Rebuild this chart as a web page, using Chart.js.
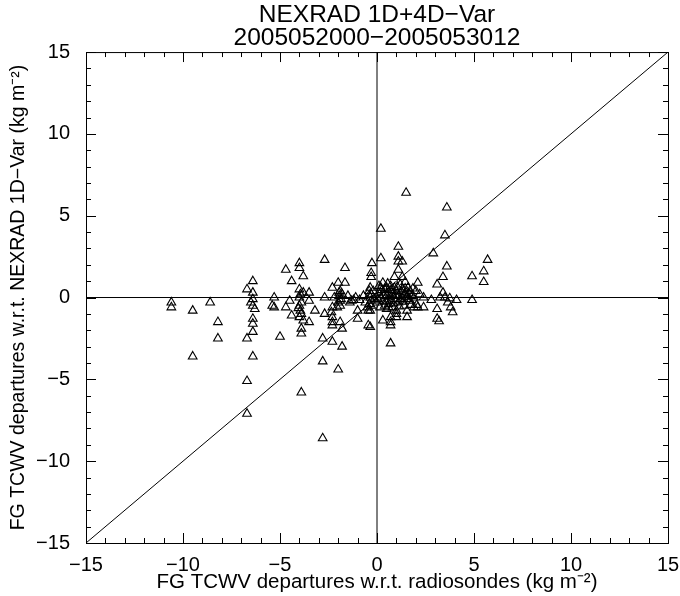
<!DOCTYPE html>
<html>
<head>
<meta charset="utf-8">
<script src="https://cdn.jsdelivr.net/npm/chart.js@4.4.1/dist/chart.umd.min.js"></script>
<style>
  body { margin: 0; background: #fff; }
  canvas { display: block; }
</style>
</head>
<body>
<canvas id="chartTcwv" width="680" height="596"></canvas>
<script>
// FG TCWV departures (kg m-2): x = w.r.t. radiosondes, y = w.r.t. NEXRAD 1D-Var
var depRadiosonde = [
    -10.6, -10.6, -9.5, -9.5, -8.6, -8.2, -8.2, -6.7, -6.7, -6.7,
    -6.7, -6.4, -6.4, -6.4, -6.5, -6.4, -6.3, -6.4, -6.4, -6.4,
    -6.4, -5.4, -5.3, -5.3, -5.0, -4.7, -4.7, -4.5, -4.4, -4.4,
    -4.0, -4.0, -4.0, -4.0, -3.9, -4.0, -3.95, -3.9, -4.0, -3.9,
    -3.9, -3.9, -3.8, -3.8, -3.8, -3.5, -3.5, -3.5, -3.2, -2.8,
    -2.8, -2.8, -2.7, -2.7, -2.7, -3.95, -4.05, -2.3, -2.3, -2.35,
    -2.3, -2.3, -2.3, -2.3, -2.2, -2.0, -2.0, -1.95, -1.9, -1.85,
    -2.0, -1.9, -1.8, -1.9, -1.8, -1.8, -1.65, -1.65, -1.5, -1.4,
    -1.3, -1.2, -1.1, -1.0, -1.0, -0.9, -0.7, -0.6, -0.5, -0.45,
    -0.45, -0.35, -0.4, -0.3, -0.35, -0.3, -0.4, -0.35, -0.35, -0.26,
    -0.3, -0.3, -0.2, -0.15, -1.9, -1.95, -2.05, -0.4, -0.3, 0.2,
    0.2, 0.1, 0.2, 0.0, 0.15, 0.3, 0.3, 0.3, 0.2, 0.4,
    0.4, 0.5, 0.5, 0.5, 0.6, 0.6, 0.7, 0.7, 0.7, 0.7,
    0.7, 0.7, 0.8, 0.8, 0.9, 0.9, 0.9, 1.0, 1.0, 1.0,
    1.0, 1.1, 1.1, 1.1, 1.1, 1.1, 1.1, 1.2, 1.2, 1.3,
    1.3, 1.3, 1.3, 1.4, 1.4, 1.45, 1.5, 1.5, 1.55, 1.55,
    1.6, 1.6, 1.7, 1.7, 1.8, 1.9, 1.9, 2.0, 2.1, 2.1,
    2.05, 2.2, 2.4, 2.4, 0.1, 0.25, 0.35, 0.45, 0.55, 0.65,
    0.75, 0.85, 0.95, 1.05, 1.15, 1.25, 1.35, 1.45, 1.55, 1.65,
    1.75, 1.85, 0.05, 0.6, 2.8, 2.9, 3.1, 3.1, 3.1, 3.2,
    3.25, 3.4, 3.4, 3.5, 3.5, 3.6, 3.6, 3.65, 3.75, 3.8,
    3.9, 4.1, 4.9, 4.9, 5.5, 5.5, 5.7
];
var depNexrad = [
    -0.3, -0.6, -0.8, -3.6, -0.3, -1.5, -2.5, 0.5, -2.5, -5.1,
    -7.1, 1.0, 0.3, -0.1, -0.3, -0.5, -0.7, -1.3, -1.6, -2.1,
    -3.6, -0.5, -0.6, 0.0, -2.4, 1.7, -0.6, -0.2, 1.0, -1.1,
    2.1, 1.8, 0.5, 0.0, -0.3, -0.5, -0.8, -1.0, -1.2, -1.9,
    -2.2, -5.8, 1.3, 0.3, -1.4, 0.3, -0.2, -1.5, -0.8, -2.5,
    -3.9, -8.6, 2.3, 0.0, -1.0, 0.2, -0.65, 0.6, -0.6, -0.9,
    -1.2, -1.5, -1.7, -2.7, 0.0, 0.9, -4.4, 0.1, 0.4, -0.1,
    -0.3, -0.5, 0.2, -1.5, -1.9, -3.0, 1.8, 0.9, 0.1, -0.3,
    -0.2, -0.15, 0.0, -0.8, -1.3, -0.15, 0.1, -0.3, -0.6, -0.8,
    -1.7, 0.6, 0.4, 0.2, 0.0, -0.2, -0.4, -0.8, -1.8, 2.1,
    1.5, 1.25, 0.4, -0.1, -0.2, 0.3, -0.6, 0.15, -0.5, 4.2,
    2.4, 0.3, 0.0, -0.3, -0.6, -0.2, 0.9, -1.4, 0.6, 0.5,
    -0.5, 0.1, -0.7, 0.6, -0.4, 0.3, 0.7, -0.2, -1.2, -1.5,
    -1.7, -2.8, 0.2, -0.6, -0.1, 0.6, 1.25, 0.4, -0.8, -1.0,
    -1.2, 3.1, 2.5, 2.2, 1.7, -0.3, 0.1, 0.8, -0.1, 0.0,
    0.5, 2.2, 1.25, -0.5, 0.2, 0.95, 6.4, 0.3, -0.8, -1.2,
    0.6, -0.1, -0.2, 0.4, 0.1, -0.6, 0.0, 0.4, 0.9, -0.6,
    -0.45, 0.2, 0.0, -0.6, 0.7, 0.45, 0.15, -0.25, 0.85, 0.05,
    0.45, -0.35, 0.15, 0.65, -0.55, 0.35, -0.25, 0.55, 0.05, 0.25,
    -0.45, 0.55, -0.1, -0.6, -0.15, 2.7, 0.8, -0.7, -1.3, -1.45,
    0.0, 1.25, 0.3, 3.8, 0.0, 5.5, 1.9, -0.3, -0.05, -0.6,
    -0.9, -0.15, 1.3, -0.15, 1.6, 0.95, 2.3
];

var axisMin = -15;
var axisMax = 15;
var majorStep = 5;
var titleLines = ['NEXRAD 1D+4D\u2212Var', '2005052000\u22122005053012'];
var xTitle = 'FG TCWV departures w.r.t. radiosondes (kg m\u207B\u00B2)';
var yTitle = 'FG TCWV departures w.r.t. NEXRAD 1D\u2212Var (kg m\u207B\u00B2)';

var fontFamily = "'Liberation Sans', Arial, sans-serif";

var points = depRadiosonde.map(function (x, i) {
    return { x: x, y: depNexrad[i] };
});

var minus = function (v) {
    return String(v).replace('-', '\u2212');
};

// box + inward ticks on all four sides, like the IDL plot
var frameTicks = {
    id: 'frameTicks',
    afterDatasetsDraw: function (chart) {
        var ctx = chart.ctx;
        var a = chart.chartArea;
        var sx = chart.scales.x;
        var sy = chart.scales.y;
        ctx.save();
        ctx.strokeStyle = '#000';
        ctx.lineWidth = 1;
        ctx.strokeRect(a.left + 0.5, a.top + 0.5, a.right - a.left, a.bottom - a.top);
        ctx.beginPath();
        for (var v = axisMin; v <= axisMax; v++) {
            var len = v % majorStep === 0 ? 10 : 5;
            var px = Math.round(sx.getPixelForValue(v)) + 0.5;
            ctx.moveTo(px, a.bottom);
            ctx.lineTo(px, a.bottom - len);
            ctx.moveTo(px, a.top);
            ctx.lineTo(px, a.top + len);
            var py = Math.round(sy.getPixelForValue(v)) + 0.5;
            ctx.moveTo(a.left, py);
            ctx.lineTo(a.left + len, py);
            ctx.moveTo(a.right, py);
            ctx.lineTo(a.right - len, py);
        }
        ctx.stroke();
        ctx.restore();
    }
};

var refLine = function (xs, ys) {
    return {
        type: 'line',
        data: [{ x: xs[0], y: ys[0] }, { x: xs[1], y: ys[1] }],
        borderColor: '#000',
        borderWidth: 1,
        pointRadius: 0,
        fill: false
    };
};

var cmc = document.getElementById('chartTcwv');
var chartTcwv = new Chart(cmc, {
    type: 'scatter',
    plugins: [frameTicks],
    data: {
        datasets: [
            {
                data: points,
                pointStyle: 'triangle',
                pointRadius: 5,
                backgroundColor: 'rgba(0,0,0,0)',
                borderColor: '#000',
                borderWidth: 1.1
            },
            refLine([axisMin, axisMax], [axisMin, axisMax]),
            refLine([axisMin, axisMax], [0, 0]),
            refLine([0, 0], [axisMin, axisMax])
        ]
    },
    options: {
        responsive: false,
        animation: false,
        layout: { padding: { left: 0, right: 12, top: 0, bottom: 0 } },
        plugins: {
            legend: { display: false },
            tooltip: { enabled: false },
            title: {
                display: true,
                fullSize: false,
                text: titleLines,
                color: '#000',
                font: { family: fontFamily, size: 24.5, weight: 'normal', lineHeight: 0.94 },
                padding: { top: 4, bottom: 2 }
            }
        },
        scales: {
            x: {
                type: 'linear',
                min: axisMin,
                max: axisMax,
                grid: { display: false },
                border: { display: false },
                ticks: {
                    stepSize: majorStep,
                    color: '#000',
                    padding: 2,
                    maxRotation: 0,
                    font: { family: fontFamily, size: 20 },
                    callback: minus
                },
                title: {
                    display: true,
                    text: xTitle,
                    color: '#000',
                    font: { family: fontFamily, size: 20.5 },
                    padding: { top: 0, bottom: 1 }
                },
                afterFit: function (scale) {
                    scale.height = 53;
                    scale.paddingLeft = 0;
                    scale.paddingRight = 0;
                }
            },
            y: {
                type: 'linear',
                min: axisMin,
                max: axisMax,
                grid: { display: false },
                border: { display: false },
                ticks: {
                    stepSize: majorStep,
                    color: '#000',
                    padding: 8,
                    font: { family: fontFamily, size: 20 },
                    callback: minus
                },
                title: {
                    display: true,
                    text: yTitle,
                    color: '#000',
                    font: { family: fontFamily, size: 19.5 },
                    padding: { top: 7, bottom: 0 }
                },
                afterFit: function (scale) {
                    scale.width = 86;
                    scale.paddingTop = 0;
                    scale.paddingBottom = 0;
                }
            }
        }
    }
});
</script>
</body>
</html>
